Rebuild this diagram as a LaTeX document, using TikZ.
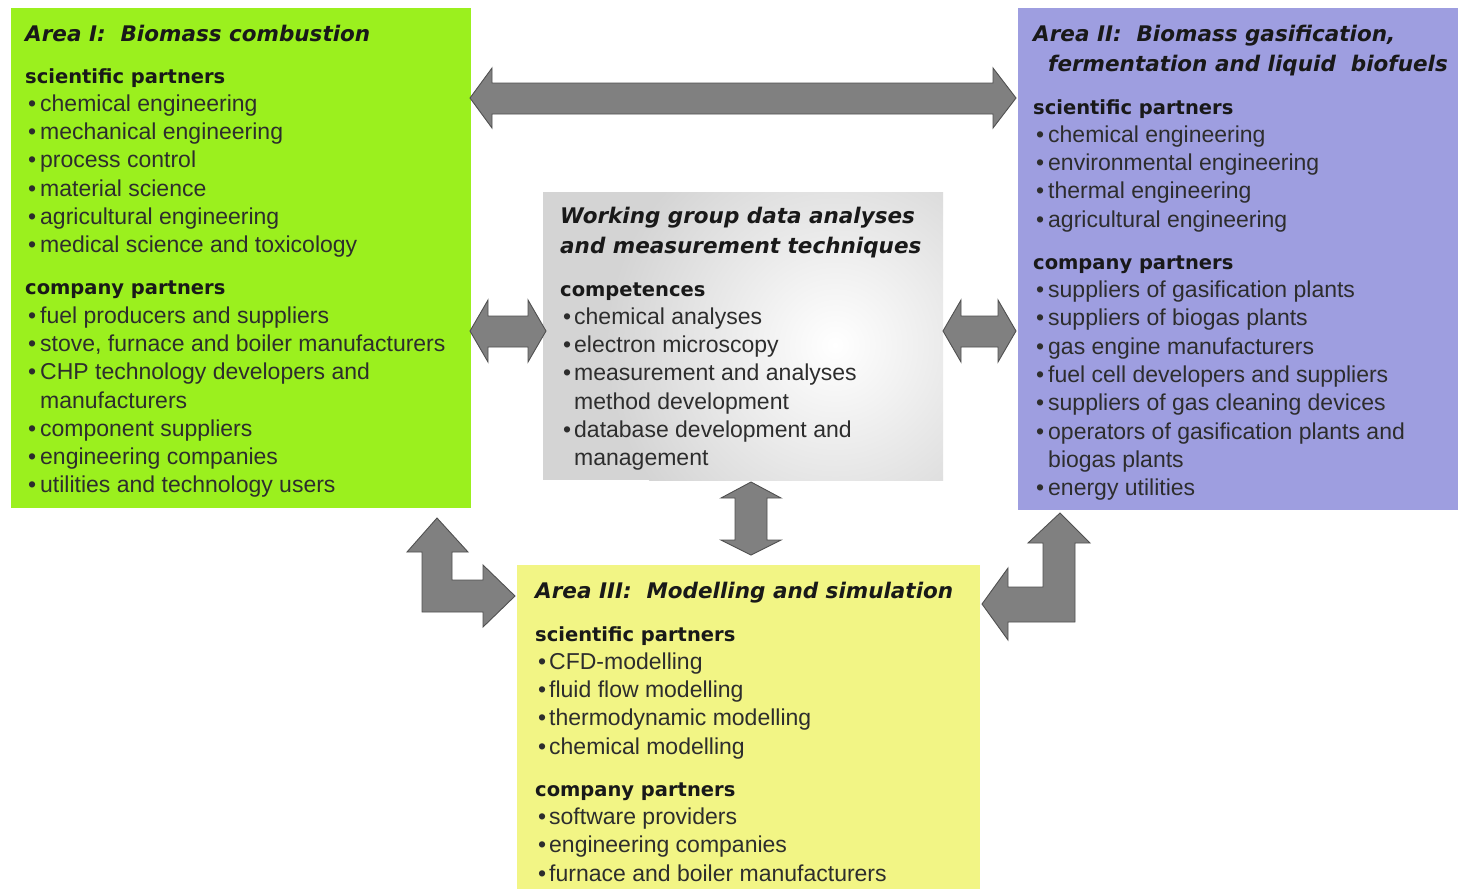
\documentclass[tikz,border=0pt]{standalone}
\usepackage{fontspec}
\setmainfont{Liberation Sans}
\newfontfamily\dvfont{DejaVu Sans}
\definecolor{greenbox}{RGB}{155,240,30}
\definecolor{purplebox}{RGB}{158,158,224}
\definecolor{yellowbox}{RGB}{242,245,133}
\definecolor{graybox}{RGB}{212,212,212}
\definecolor{arrowfill}{RGB}{128,128,128}
\definecolor{arrowline}{RGB}{80,80,80}
\definecolor{bodytext}{RGB}{45,45,45}
\newcommand\bodyf{\fontsize{23}{28.3}\selectfont}
\newcommand\ttlf{\dvfont\bfseries\itshape\fontsize{21.5}{28.3}\selectfont\color{black!90}}
\newcommand\hdf{\dvfont\bfseries\fontsize{19.5}{28.3}\selectfont\color{black!90}}
\newcommand\itm[1]{\makebox[15pt][l]{\hspace{3pt}•}#1}
\newcommand\itmb[1]{\makebox[14pt][l]{\hspace{3pt}•}#1}
\newcommand\cnt[1]{\hspace*{15pt}#1}
\newcommand\cntb[1]{\hspace*{14pt}#1}
\tikzset{
  box/.style={inner sep=0pt, outer sep=0pt, anchor=north west, draw=none},
  txt/.style={inner sep=0pt, anchor=base west, text=bodytext},
  arr/.style={fill=arrowfill, draw=arrowline, line width=0.9pt, line join=miter}
}
\begin{document}
\begin{tikzpicture}[x=1pt,y=-1pt]
\useasboundingbox (0,0) rectangle (1458,889);
\fill[white] (0,0) rectangle (1458,889);

% boxes
\node[box, fill=greenbox, minimum width=460pt, minimum height=500pt] (areaI) at (11,8) {};
\node[box, fill=purplebox, minimum width=440pt, minimum height=502pt] (areaII) at (1018,8) {};
\node[box, fill=yellowbox, minimum width=463pt, minimum height=324pt] (areaIII) at (517,565) {};
\node[box, fill=graybox, minimum width=400pt, minimum height=288pt] (wg) at (543,192) {};
\begin{scope}
  \clip (543,192) rectangle (943,480);
  \shade[inner color=white, outer color=graybox] (835,345) circle (230pt);
\end{scope}

% arrows
\draw[arr] (470,98) -- (492,68) -- (492,83) -- (993,83) -- (993,68) -- (1016,98)
  -- (993,128) -- (993,114) -- (492,114) -- (492,128) -- cycle;
\draw[arr] (470,331) -- (488,300) -- (488,316) -- (528,316) -- (528,300) -- (546,331)
  -- (528,362) -- (528,347) -- (488,347) -- (488,362) -- cycle;
\draw[arr] (943,331) -- (961,300) -- (961,316) -- (998,316) -- (998,300) -- (1016,331)
  -- (998,362) -- (998,347) -- (961,347) -- (961,362) -- cycle;
\draw[arr] (751,482) -- (781,498) -- (767,498) -- (767,540) -- (781,540) -- (751,555)
  -- (721,540) -- (735,540) -- (735,498) -- (721,498) -- cycle;
\draw[arr] (437,518) -- (468,552) -- (452,552) -- (452,580) -- (483,580) -- (483,565)
  -- (515,596) -- (483,627) -- (483,612) -- (422,612) -- (422,552) -- (407,552) -- cycle;
\draw[arr] (1060,513) -- (1090,543) -- (1075,543) -- (1075,622) -- (1008,622) -- (1008,640)
  -- (982,604) -- (1008,568) -- (1008,587) -- (1043,587) -- (1043,543) -- (1028,543) -- cycle;

% texts
\node[txt] (tI) at (25,41) {\parbox[t]{445pt}{\raggedright\bodyf\leavevmode
{\ttlf Area I:\ \ Biomass combustion}\\[13.7pt]
{\hdf scientific partners}\\
\itm{chemical engineering}\\
\itm{mechanical engineering}\\
\itm{process control}\\
\itm{material science}\\
\itm{agricultural engineering}\\
\itm{medical science and toxicology}\\[13.7pt]
{\hdf company partners}\\
\itm{fuel producers and suppliers}\\
\itm{stove, furnace and boiler manufacturers}\\
\itm{CHP technology developers and}\\
\cnt{manufacturers}\\
\itm{component suppliers}\\
\itm{engineering companies}\\
\itm{utilities and technology users}}};

\node[txt] (tII) at (1033,41) {\parbox[t]{420pt}{\raggedright\bodyf\leavevmode
{\ttlf Area II:\ \ Biomass gasification,}\\[1.7pt]
\cnt{{\ttlf fermentation and liquid\ \ biofuels}}\\[14.7pt]
{\hdf scientific partners}\\
\itm{chemical engineering}\\
\itm{environmental engineering}\\
\itm{thermal engineering}\\
\itm{agricultural engineering}\\[13.7pt]
{\hdf company partners}\\
\itm{suppliers of gasification plants}\\
\itm{suppliers of biogas plants}\\
\itm{gas engine manufacturers}\\
\itm{fuel cell developers and suppliers}\\
\itm{suppliers of gas cleaning devices}\\
\itm{operators of gasification plants and}\\
\cnt{biogas plants}\\
\itm{energy utilities}}};

\node[txt] (tWG) at (560,223) {\parbox[t]{380pt}{\raggedright\bodyf\leavevmode
{\ttlf Working group data analyses}\\[1.7pt]
{\ttlf and measurement techniques}\\[14.7pt]
{\hdf competences}\\
\itmb{chemical analyses}\\
\itmb{electron microscopy}\\
\itmb{measurement and analyses}\\
\cntb{method development}\\
\itmb{database development and}\\
\cntb{management}}};

\node[txt] (tIII) at (535,598) {\parbox[t]{440pt}{\raggedright\bodyf\leavevmode
{\ttlf Area III:\ \ Modelling and simulation}\\[14.7pt]
{\hdf scientific partners}\\
\itmb{CFD-modelling}\\
\itmb{fluid flow modelling}\\
\itmb{thermodynamic modelling}\\
\itmb{chemical modelling}\\[13.7pt]
{\hdf company partners}\\
\itmb{software providers}\\
\itmb{engineering companies}\\
\itmb{furnace and boiler manufacturers}}};
\end{tikzpicture}
\end{document}
